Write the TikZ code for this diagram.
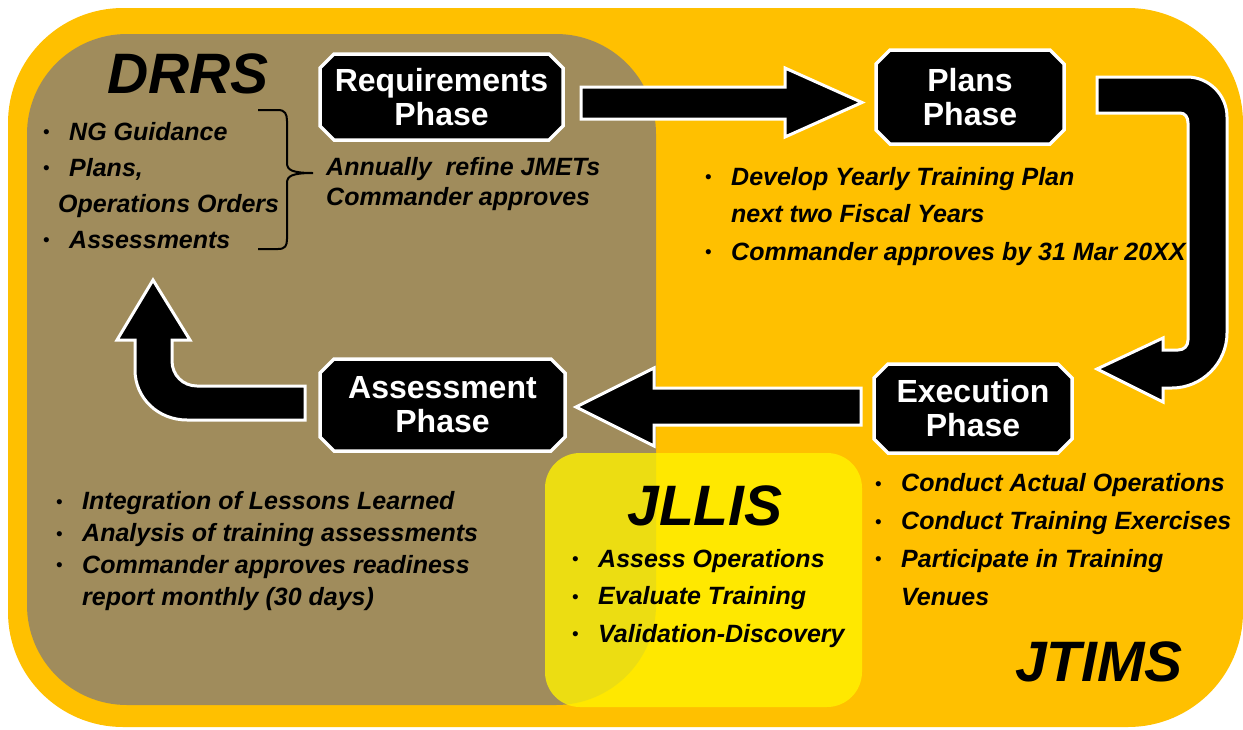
\documentclass[tikz,border=0pt]{standalone}
\usepackage{fontspec}
\setmainfont{Liberation Sans}
\usetikzlibrary{shapes.misc}
\definecolor{jtimsorange}{RGB}{255,192,0}
\definecolor{drrsbrown}{RGB}{160,140,92}
\tikzset{
  phase/.style={chamfered rectangle,chamfered rectangle xsep=7pt,chamfered rectangle ysep=7pt,
    fill=black,draw=white,line width=3.5pt,text=white,inner sep=0pt,align=center,
    font=\fontsize{32}{34}\selectfont\bfseries},
  blockarrow/.style={fill=black,draw=white,line width=3pt},
  bullets/.style={anchor=base west,inner sep=0pt,align=left,font=\fontsize{25}{37.5}\selectfont\bfseries\itshape},
  system/.style={anchor=base,inner sep=0pt,font=\fontsize{57}{57}\selectfont\bfseries\itshape}
}
\newcommand{\blt}{\makebox[26pt][l]{\raisebox{1.5pt}{\fontsize{19}{19}\selectfont\upshape\mdseries\textbullet}}}
\begin{document}
\begin{tikzpicture}[x=1pt,y=-1pt]
\useasboundingbox (0,0) rectangle (1243,729);
% panels
\fill[white] (0,0) rectangle (1243,729);
\fill[jtimsorange,rounded corners=115pt] (8,8) rectangle (1243,727);
\fill[drrsbrown,rounded corners=100pt] (27,34) rectangle (656,705);
\fill[yellow,opacity=0.8,rounded corners=35pt] (545,453) rectangle (862,707);

% block arrows
\draw[blockarrow] (581,87) -- (785,87) -- (785,68) -- (862,102.5) -- (785,137) -- (785,119) -- (581,119) -- cycle;
\draw[blockarrow] (1097,77) -- (1187,77) .. controls (1209,77) and (1227,95) .. (1227,117) -- (1227,333)
  .. controls (1227,363) and (1202,388) .. (1172,388) -- (1163,388) -- (1163,402) -- (1097,369) -- (1163,338)
  -- (1163,350) -- (1178,350) .. controls (1184,350) and (1188,346) .. (1188,340) -- (1188,123)
  .. controls (1188,117) and (1185,113) .. (1180,113) -- (1097,113) -- cycle;
\draw[blockarrow] (861,388) -- (654,388) -- (654,368) -- (576,407) -- (654,446) -- (654,425) -- (861,425) -- cycle;
\draw[blockarrow] (305,386) -- (197,386) .. controls (183,386) and (172,375) .. (172,361) -- (172,340) -- (190,340)
  -- (153,280) -- (117,340) -- (135,340) -- (135,370) .. controls (135,398) and (158,420) .. (187,420) -- (305,420) -- cycle;

% phases
\node[phase,minimum width=243pt,minimum height=86pt] (req) at (441.5,97) {Requirements\\Phase};
\node[phase,minimum width=188pt,minimum height=94pt] (plans) at (970,97) {Plans\\Phase};
\node[phase,minimum width=198pt,minimum height=89pt] (exec) at (973,408.5) {Execution\\Phase};
\node[phase,minimum width=245pt,minimum height=92pt] (assess) at (442.5,405) {Assessment\\Phase};

% systems
\node[system] (drrs) at (188,93) {DRRS};
\node[system] (jllis) at (705,525) {JLLIS};
\node[system] (jtims) at (1099,681) {JTIMS};

% brace
\draw[line width=2pt] (258,110) -- (278,110) .. controls (285,110) and (287,114) .. (287,121) -- (287,163)
  .. controls (287,170) and (292,173) .. (313,173) .. controls (292,173) and (287,176) .. (287,183) -- (287,239)
  .. controls (287,246) and (285,249) .. (278,249) -- (258,249);

% lists (anchored at the baseline of their last line)
\node[bullets,font=\fontsize{25}{36}\selectfont\bfseries\itshape] (drrslist) at (43,248)
  {\blt NG Guidance\\\blt Plans,\\\hspace*{15pt}Operations Orders\\\blt Assessments};
\node[bullets,font=\fontsize{25}{30}\selectfont\bfseries\itshape] (reqlist) at (326,205)
  {Annually~ refine JMETs\\Commander approves};
\node[bullets] (planslist) at (705,260)
  {\blt Develop Yearly Training Plan\\\hspace*{26pt}next two Fiscal Years\\\blt Commander approves by 31 Mar 20XX};
\node[bullets,font=\fontsize{25}{37.7}\selectfont\bfseries\itshape] (execlist) at (875,605)
  {\blt Conduct Actual Operations\\\blt Conduct Training Exercises\\\blt Participate in Training\\\hspace*{26pt}Venues};
\node[bullets] (jllislist) at (572,642)
  {\blt Assess Operations\\\blt Evaluate Training\\\blt Validation-Discovery};
\node[bullets,font=\fontsize{25}{31.7}\selectfont\bfseries\itshape] (assesslist) at (56,605)
  {\blt Integration of Lessons Learned\\\blt Analysis of training assessments\\\blt Commander approves readiness\\\hspace*{26pt}report monthly (30 days)};
\end{tikzpicture}
\end{document}
